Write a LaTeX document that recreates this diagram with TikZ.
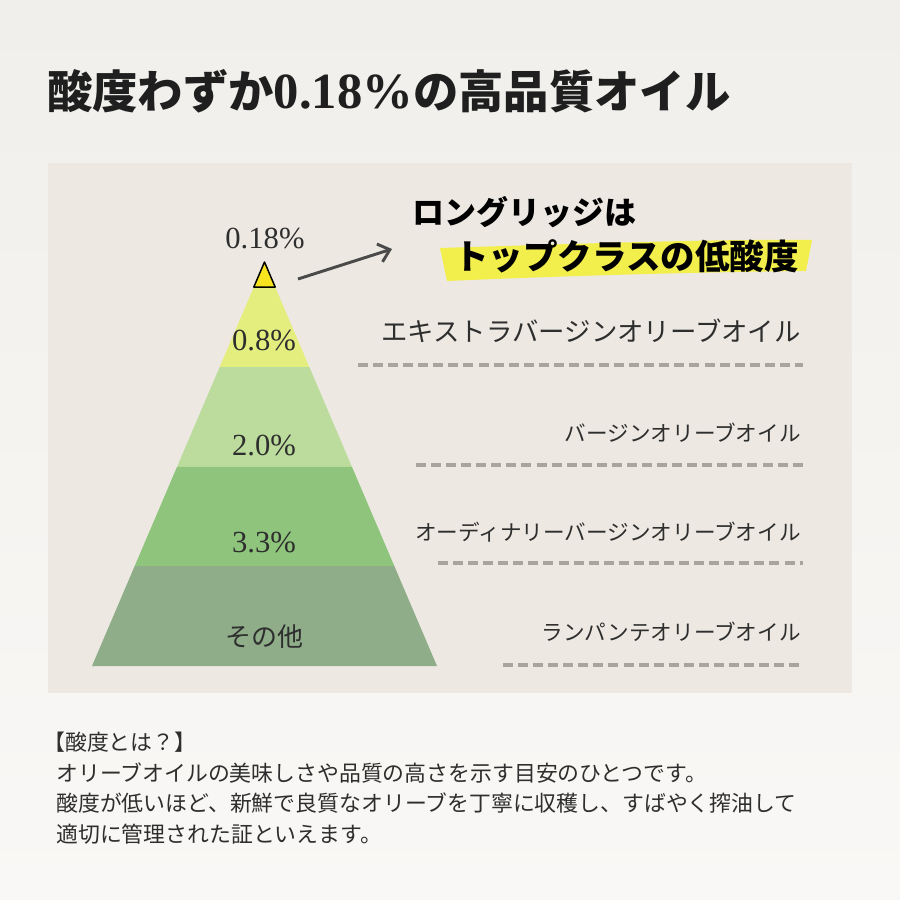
\documentclass[tikz,border=0pt]{standalone}
\usepackage{fontspec}
\setmainfont{Noto Sans CJK JP}
\newfontfamily\zahl{Liberation Serif}
\usepackage{xcolor}
\usepackage{tikz}
\usetikzlibrary{calc}
\usetikzlibrary{arrows.meta}
\definecolor{grundoben}{HTML}{F0EFEB}
\definecolor{grundunten}{HTML}{F9F8F6}
\definecolor{leinen}{HTML}{EDE9E2}
\definecolor{stufeA}{HTML}{E3EE7E}
\definecolor{stufeB}{HTML}{BCDC9D}
\definecolor{stufeC}{HTML}{8EC47B}
\definecolor{stufeD}{HTML}{8FAD89}
\definecolor{spitze}{HTML}{F7E31E}
\definecolor{marker}{HTML}{F2EE4C}
\definecolor{strich}{HTML}{A9A59D}
\definecolor{pfeilgrau}{HTML}{4A4A4A}
\definecolor{schrift}{HTML}{2E2E2E}
\tikzset{
  Pfeil/.style={line width=2.2pt,draw=#1,-{Straight Barb[length=8pt,width=14pt]}}, % Hinweispfeil
  Trenner/.style={line width=3pt,draw=strich,dash pattern=on 7.5pt off 3.8pt}, % Trennlinien
  Prozent/.style={font={\zahl\fontsize{23}{23}\selectfont},text=schrift,inner sep=0pt},
  Sorte/.style={font={\fontsize{#1}{#1}\selectfont},text=schrift,inner sep=0pt,anchor=east},
  Sorte/.default=16.2,
  Ruf/.style={font={\bfseries\fontsize{#1}{#1}\selectfont},text=black,inner sep=0pt,anchor=west},
  Ruf/.default=24,
  Zeile/.style={font={\fontsize{16.4}{16.4}\selectfont},text=schrift,inner sep=0pt,anchor=west}
}

\begin{document}
\begin{tikzpicture}[x=0.75pt,y=-0.75pt]
\useasboundingbox (0,0) rectangle (900,900);

%Hintergrund
\shade[top color=grundoben,bottom color=grundunten] (0,0) rectangle (900,900);
\fill[leinen] (48,163) rectangle (852,693);

%Titel
\node[anchor=west,inner sep=0pt,font={\bfseries\fontsize{34}{34}\selectfont},text=black!88] (titel) at (47,91)
  {酸度わずか{\zahl\bfseries\fontsize{38}{38}\selectfont 0.18\%}の高品質オイル};

%Pyramide
\coordinate (A) at (264.5,262);
\coordinate (L) at (92,666);
\coordinate (R) at (437,666);
\foreach \ta/\tb/\farbe in {0.0644/0.2599/stufeA,0.2599/0.5074/stufeB,0.5074/0.7525/stufeC,0.7525/1/stufeD}
  \fill[\farbe] ($(A)!\ta!(L)$) -- ($(A)!\ta!(R)$) -- ($(A)!\tb!(R)$) -- ($(A)!\tb!(L)$) -- cycle;
\filldraw[fill=spitze,draw=black,line width=1.1pt,line join=round]
  (A) -- ($(A)!0.062!(R)$) -- ($(A)!0.062!(L)$) -- cycle;

%Werte
\node[Prozent] (p018) at (265,239) {0.18\%};
\node[Prozent] (p08) at (264,341) {0.8\%};
\node[Prozent] (p20) at (264,446) {2.0\%};
\node[Prozent] (p33) at (264,543) {3.3\%};
\node[Prozent,font={\fontsize{19.5}{19.5}\selectfont}] (rest) at (264,637) {その他};

%Sorten
\node[Sorte=19.8] (evoo) at (801,331) {エキストラバージンオリーブオイル};
\node[Sorte] (vo) at (801,433) {バージンオリーブオイル};
\node[Sorte] (ovo) at (801,532) {オーディナリーバージンオリーブオイル};
\node[Sorte] (lo) at (801,632) {ランパンテオリーブオイル};

%Trennlinien
\foreach \y/\xa in {365/358,465/416,563/438,665/503}
  \draw[Trenner] (\xa,\y) -- (803,\y);

%Hinweis
\fill[marker] (440,248) .. controls (600,243) and (720,239) .. (812,240)
  -- (806,271) .. controls (700,272) and (560,276) .. (447,281) -- cycle;
\node[Ruf] (ruf1) at (412,212) {ロングリッジは};
\node[Ruf=25.9] (ruf2) at (454,256) {トップクラスの低酸度};
\coordinate (pfeilA) at (298,279);
\coordinate (pfeilE) at (392,249);
\draw[Pfeil=pfeilgrau] (pfeilA) -- (pfeilE);

%Erklaerung
\foreach \i/\x/\y/\txt in {1/43/742/{【酸度とは？】},
  2/56/773/{オリーブオイルの美味しさや品質の高さを示す目安のひとつです。},
  3/56/803/{酸度が低いほど、新鮮で良質なオリーブを丁寧に収穫し、すばやく搾油して},
  4/56/834/{適切に管理された証といえます。}}
  \node[Zeile] (text\i) at (\x,\y) {\txt};

\end{tikzpicture}
\end{document}
